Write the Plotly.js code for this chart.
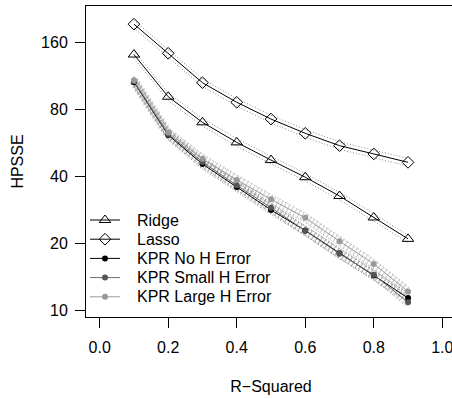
<!DOCTYPE html>
<html>
<head>
<meta charset="utf-8">
<script src="https://cdn.plot.ly/plotly-3.0.1.min.js"></script>
<style>html,body{margin:0;padding:0;overflow:hidden;background:#fff;}#chart{width:456px;height:399px;}</style>
</head>
<body>
<div id="chart"></div>
<script>
// R-squared values
const rsq = [0.1, 0.2, 0.3, 0.4, 0.5, 0.6, 0.7, 0.8, 0.9];

// Mean HPSSE
const ridge = [141, 91.2, 70.0, 56.9, 47.4, 39.7, 32.7, 26.2, 21.0];
const lasso = [193, 142.8, 105.4, 86.1, 72.4, 62.5, 55.0, 50.5, 46.3];
const kprNo = [106, 61.4, 45.5, 35.9, 28.3, 22.9, 18.1, 14.4, 11.4];
const kprSmall = [107, 62.0, 46.5, 36.5, 29.0, 22.8, 18.0, 14.5, 10.9];
const kprLarge = [108, 63.0, 48.0, 38.6, 31.6, 26.1, 20.5, 16.2, 12.2];

// Interval bounds (dotted)
const ridgeHi = [146.6, 94.8, 72.8, 59.2, 49.3, 41.3, 34.0, 27.2, 21.8];
const ridgeLo = [135.6, 87.7, 67.3, 54.7, 45.6, 38.2, 31.4, 25.2, 20.2];
const lassoHi = [201, 148.5, 109.6, 89.5, 75.3, 65.0, 57.2, 52.5, 48.2];
const lassoLo = [185.5, 137.3, 101.3, 82.8, 69.6, 60.1, 52.9, 48.6, 44.5];
const kprNoHi = [111, 64.5, 47.8, 37.7, 29.7, 24.0, 19.0, 15.1, 12.0];
const kprNoLo = [101, 58.5, 43.3, 34.2, 27.0, 21.8, 17.2, 13.7, 10.9];
const kprSmallHi = [112, 65.0, 48.8, 38.3, 30.4, 23.9, 18.9, 15.2, 11.4];
const kprSmallLo = [102, 59.0, 44.3, 34.8, 27.6, 21.7, 17.1, 13.8, 10.4];
const kprLargeHi = [113, 66.0, 50.4, 40.5, 33.2, 27.4, 21.5, 17.0, 12.8];
const kprLargeLo = [103, 60.0, 45.7, 36.8, 30.1, 24.9, 19.5, 15.4, 11.6];

// Series names (legend labels)
const names = ['Ridge', 'Lasso', 'KPR No H Error', 'KPR Small H Error', 'KPR Large H Error'];

// Tick labels
const yTicks = [10, 20, 40, 80, 160];
const yTickText = ['10', '20', '40', '80', '160'];
const xTicks = [0, 0.2, 0.4, 0.6, 0.8, 1.0];
const xTickText = ['0.0', '0.2', '0.4', '0.6', '0.8', '1.0'];

const FONT = 'Liberation Sans, Arial, Helvetica, sans-serif';

const styles = [
  {line: '#000', marker: {symbol: 'triangle-up-open', size: 10, color: '#000', line: {width: 1, color: '#000'}}},
  {line: '#000', marker: {symbol: 'diamond-open', size: 9, color: '#000', line: {width: 1, color: '#000'}}},
  {line: '#000', marker: {symbol: 'circle', size: 6, color: '#000'}},
  {line: '#6a6a6a', marker: {symbol: 'circle', size: 6, color: '#555'}},
  {line: '#9c9c9c', marker: {symbol: 'circle', size: 6, color: '#999'}}
];
const series = [ridge, lasso, kprNo, kprSmall, kprLarge];

function bound(y, color) {
  return {x: rsq, y: y, mode: 'lines', showlegend: false, hoverinfo: 'skip',
          line: {color: color, width: 1, dash: '1px,2px'}};
}
function hatch(y, color) {
  return {x: rsq, y: y, mode: 'lines', showlegend: false, hoverinfo: 'skip',
          line: {color: color, width: 9, dash: '1px,3px'}};
}

const traces = [
  bound(ridgeHi, '#8a8a8a'), bound(ridgeLo, '#8a8a8a'),
  bound(lassoHi, '#8a8a8a'), bound(lassoLo, '#8a8a8a'),
  hatch(kprLarge, 'rgba(150,150,150,0.5)'),
  hatch(kprSmall, 'rgba(120,120,120,0.4)'),
  hatch(kprNo, 'rgba(90,90,90,0.3)'),
  bound(kprNoHi, '#888'), bound(kprNoLo, '#888'),
  bound(kprSmallHi, '#999'), bound(kprSmallLo, '#999'),
  bound(kprLargeHi, '#aaa'), bound(kprLargeLo, '#aaa')
];
series.forEach((s, i) => {
  traces.push({x: rsq, y: s, name: names[i], mode: 'lines+markers', showlegend: false,
               line: {color: styles[i].line, width: 1}, marker: styles[i].marker});
});

// Manual legend (R-style, no frame) on a hidden pixel-scaled overlay axis
const legX0 = 4, legX1 = 34, legXm = 19, legTextX = 49, legTop = 97, legStep = 19.2;
const annotations = [];
names.forEach((n, i) => {
  const yy = legTop - i * legStep;
  traces.push({x: [legX0, legX1], y: [yy, yy], xaxis: 'x2', yaxis: 'y2', mode: 'lines',
               showlegend: false, hoverinfo: 'skip', line: {color: styles[i].line, width: 1}});
  traces.push({x: [legXm], y: [yy], xaxis: 'x2', yaxis: 'y2', mode: 'markers',
               showlegend: false, hoverinfo: 'skip', marker: styles[i].marker});
  annotations.push({x: legTextX, y: yy, xref: 'x2', yref: 'y2', text: n, showarrow: false,
                    xanchor: 'left', yanchor: 'middle', font: {family: FONT, size: 16, color: '#000'}});
});

const layout = {
  width: 456, height: 399,
  margin: {l: 86, r: 0, t: 6, b: 82},
  paper_bgcolor: '#fff', plot_bgcolor: '#fff',
  font: {family: FONT, size: 16, color: '#000'},
  showlegend: false,
  annotations: annotations,
  xaxis: {range: [-0.04, 1.04], showgrid: false, zeroline: false,
          showline: true, mirror: true, linecolor: '#000', linewidth: 1,
          ticks: 'outside', ticklen: 10, tickcolor: '#000', tickwidth: 1,
          tickvals: xTicks, ticktext: xTickText, ticklabelstandoff: 6,
          tickfont: {family: FONT, size: 16, color: '#000'},
          title: {text: 'R\u2212Squared', standoff: 25, font: {family: FONT, size: 16, color: '#000'}}},
  yaxis: {type: 'log', range: [0.9717, 2.367], showgrid: false, zeroline: false,
          showline: true, mirror: true, linecolor: '#000', linewidth: 1,
          ticks: 'outside', ticklen: 10, tickcolor: '#000', tickwidth: 1,
          tickvals: yTicks, ticktext: yTickText, ticklabelstandoff: 4,
          tickfont: {family: FONT, size: 16, color: '#000'},
          title: {text: 'HPSSE', standoff: 13, font: {family: FONT, size: 16, color: '#000'}}},
  xaxis2: {overlaying: 'x', range: [0, 370], visible: false, fixedrange: true},
  yaxis2: {overlaying: 'y', range: [0, 311], visible: false, fixedrange: true}
};

Plotly.newPlot('chart', traces, layout, {staticPlot: true, displayModeBar: false});
</script>
</body>
</html>
